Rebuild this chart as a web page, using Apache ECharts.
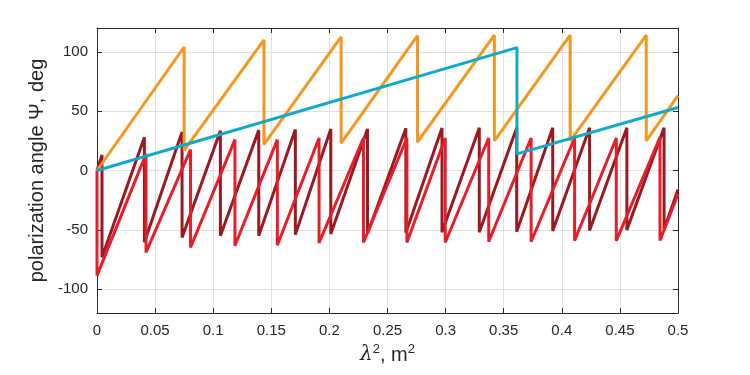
<!DOCTYPE html>
<html>
<head>
<meta charset="utf-8">
<script src="https://cdn.jsdelivr.net/npm/echarts@6/dist/echarts.min.js"></script>
<style>
  html, body { margin: 0; padding: 0; background: #fff; }
  #chart { width: 750px; height: 375px; }
</style>
</head>
<body>
<div id="chart"></div>
<script>
// sawtooth vertices (lambda^2 in m^2, angle in deg)
const orangeX = [0, 0.0750, 0.0750, 0.1437, 0.1437, 0.2101, 0.2101, 0.2758, 0.2758, 0.3420, 0.3420, 0.4072, 0.4072, 0.4727, 0.4727, 0.5];
const orangeY = [0, 104, 17, 110, 22, 112.5, 23, 113.5, 24, 114, 25, 114, 25, 114, 25, 63];

const cyanX = [0, 0.3614, 0.3614, 0.5];
const cyanY = [0, 103.5, 14, 53];

const darkRedX = [0, 0.0043, 0.0043, 0.0408, 0.0408, 0.0732, 0.0732, 0.1062, 0.1062, 0.1392, 0.1392, 0.1707, 0.1707,
  0.2012, 0.2012, 0.2328, 0.2328, 0.2658, 0.2658, 0.2969, 0.2969, 0.3290, 0.3290, 0.3612, 0.3612, 0.3922, 0.3922,
  0.4239, 0.4239, 0.4560, 0.4560, 0.4880, 0.4880, 0.5];
const darkRedY = [0, 13, -73, 28, -60.5, 32.5, -56.5, 33.5, -55, 34, -55, 34.5, -54,
  35, -53.5, 35, -53, 35.5, -52.5, 35.8, -52, 36, -52, 36, -51.5, 36, -51,
  36, -50.5, 36, -50, 36, -49.5, -16];

const redX = [0, 0, 0.0422, 0.0422, 0.0805, 0.0805, 0.1187, 0.1187, 0.1552, 0.1552, 0.1911, 0.1911, 0.2293, 0.2293,
  0.2667, 0.2667, 0.2997, 0.2997, 0.3371, 0.3371, 0.3736, 0.3736, 0.4110, 0.4110, 0.4469, 0.4469, 0.4845, 0.4845, 0.5];
const redY = [0, -88.5, 14, -69, 17.6, -64.8, 26, -63.4, 26, -63, 27.4, -61, 27.4, -60.6,
  27.4, -60.6, 27.4, -60.6, 27.4, -60, 27.4, -60, 27.4, -59.2, 27.4, -59.2, 28, -59, -20];

const xTicks = [0, 0.05, 0.1, 0.15, 0.2, 0.25, 0.3, 0.35, 0.4, 0.45, 0.5];
const yTicks = [-100, -50, 0, 50, 100];

const pairs = (xs, ys) => xs.map((x, i) => [x, ys[i]]);

const ink = '#262626';
const font = "'Liberation Sans', Arial, sans-serif";

const chart = echarts.init(document.getElementById('chart'), null, { renderer: 'canvas' });

const lineSeries = (name, xs, ys, color) => ({
  name: name,
  type: 'line',
  data: pairs(xs, ys),
  showSymbol: false,
  symbol: 'none',
  animation: false,
  lineStyle: { color: color, width: 3 },
  z: 3
});

chart.setOption({
  animation: false,
  backgroundColor: '#fff',
  grid: { left: 97, right: 72, top: 28, bottom: 62 },
  xAxis: [
    {
      type: 'value', min: 0, max: 0.5, interval: 0.05,
      name: '{l|λ}{s|2}{n|, m}{s|2}', nameLocation: 'middle', nameGap: 30,
      nameTextStyle: {
        rich: {
          l: { fontFamily: 'DejaVu Serif', fontStyle: 'italic', fontSize: 20, color: ink, verticalAlign: 'bottom' },
          n: { fontFamily: font, fontSize: 20, color: ink, verticalAlign: 'bottom' },
          s: { fontFamily: font, fontSize: 13, color: ink, verticalAlign: 'top', padding: [0, 0, 9, 0] }
        }
      },
      axisLine: { show: true, onZero: false, lineStyle: { color: ink, width: 1 } },
      axisTick: { show: true, inside: true, length: 5, lineStyle: { color: ink } },
      axisLabel: {
        color: ink, fontFamily: font, fontSize: 15, margin: 10,
        formatter: v => (xTicks.some(t => Math.abs(t - v) < 1e-9) ? String(+v.toFixed(2)) : '')
      },
      splitLine: { show: true, lineStyle: { color: '#e0e0e0', width: 1 } }
    },
    {
      type: 'value', min: 0, max: 0.5, interval: 0.05, position: 'top',
      axisLine: { show: true, onZero: false, lineStyle: { color: ink, width: 1 } },
      axisTick: { show: true, inside: true, length: 5, lineStyle: { color: ink } },
      axisLabel: { show: false },
      splitLine: { show: false }
    }
  ],
  yAxis: [
    {
      type: 'value', min: -120, max: 120, splitNumber: 5,
      name: 'polarization angle Ψ, deg', nameLocation: 'middle', nameGap: 39,
      nameTextStyle: { color: ink, fontFamily: font, fontSize: 20 },
      axisLine: { show: true, onZero: false, lineStyle: { color: ink, width: 1 } },
      axisTick: { show: true, inside: true, length: 5, lineStyle: { color: ink } },
      axisLabel: {
        color: ink, fontFamily: font, fontSize: 15, margin: 9,
        showMinLabel: false, showMaxLabel: false,
        formatter: v => (yTicks.includes(v) ? String(v) : '')
      },
      splitLine: { show: true, lineStyle: { color: '#e0e0e0', width: 1 } }
    },
    {
      type: 'value', min: -120, max: 120, splitNumber: 5, position: 'right',
      axisLine: { show: true, onZero: false, lineStyle: { color: ink, width: 1 } },
      axisTick: { show: true, inside: true, length: 5, lineStyle: { color: ink } },
      axisLabel: { show: false },
      splitLine: { show: false }
    }
  ],
  series: [
    lineSeries('dark red', darkRedX, darkRedY, '#9a1a22'),
    lineSeries('red', redX, redY, '#e61e2a'),
    lineSeries('orange', orangeX, orangeY, '#f7961e'),
    lineSeries('cyan', cyanX, cyanY, '#0eaac9')
  ]
});
</script>
</body>
</html>
